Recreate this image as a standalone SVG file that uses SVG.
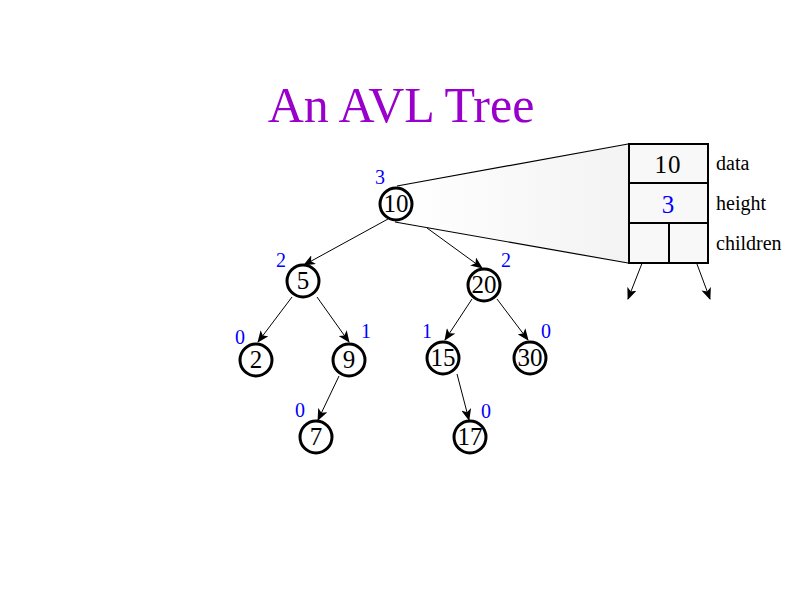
<svg xmlns="http://www.w3.org/2000/svg" width="800" height="600" viewBox="0 0 800 600">
<style>
.node circle{fill:#fff;stroke:#000;stroke-width:3}
.node text{font-family:"Liberation Serif",serif;font-size:25px;text-anchor:middle;fill:#000}
.h{font-family:"Liberation Serif",serif;font-size:20px;text-anchor:middle;fill:#0000ff}
.lbl{font-family:"Liberation Serif",serif;font-size:20px;fill:#000}
.edge{stroke:#000;stroke-width:1;fill:none;marker-end:url(#arr)}
.cell{fill:#f8f8f8;stroke:#000;stroke-width:2}
</style>
<defs>
<marker id="arr" markerUnits="userSpaceOnUse" markerWidth="12" markerHeight="10" refX="11" refY="5" orient="auto">
<path d="M0,0 L12,5 L0,10 L3,5 Z" fill="#000"/>
</marker>
<linearGradient id="fan" x1="0" y1="0" x2="1" y2="0">
<stop offset="0" stop-color="#ffffff"/>
<stop offset="1" stop-color="#f3f3f3"/>
</linearGradient>
</defs>
<rect width="800" height="600" fill="#fff"/>
<text x="401" y="122" font-family="'Liberation Serif',serif" font-size="50" text-anchor="middle" fill="#9900cc">An AVL Tree</text>
<g id="fan-shape">
<polygon points="397,186 628,144 628,263 395,222" fill="url(#fan)" stroke="none"/>
<line x1="397" y1="186" x2="628" y2="144" stroke="#000" stroke-width="1.2"/>
<line x1="395" y1="222" x2="628" y2="263" stroke="#000" stroke-width="1.2"/>
</g>
<g id="connectors">
<line class="edge" x1="388" y1="219" x2="304" y2="265"/>
<line class="edge" x1="427" y1="228" x2="482" y2="268"/>
<line class="edge" x1="292" y1="297" x2="258" y2="342"/>
<line class="edge" x1="317" y1="297" x2="349" y2="342"/>
<line class="edge" x1="472" y1="299" x2="445" y2="340"/>
<line class="edge" x1="497" y1="299" x2="528" y2="340"/>
<line class="edge" x1="339" y1="376" x2="318" y2="420"/>
<line class="edge" x1="457" y1="374" x2="469" y2="420"/>
<line class="edge" x1="648" y1="248" x2="628" y2="299"/>
<line class="edge" x1="691" y1="248" x2="710" y2="299"/>
</g>
<g id="n10" class="node"><circle cx="396" cy="204" r="16"/><text x="396" y="212">10</text></g>
<g id="n5" class="node"><circle cx="303" cy="281" r="16"/><text x="303" y="289">5</text></g>
<g id="n20" class="node"><circle cx="484" cy="285" r="16"/><text x="484" y="293">20</text></g>
<g id="n2" class="node"><circle cx="256" cy="360" r="16"/><text x="256" y="368">2</text></g>
<g id="n9" class="node"><circle cx="349" cy="360" r="16"/><text x="349" y="368">9</text></g>
<g id="n15" class="node"><circle cx="443" cy="358" r="16"/><text x="443" y="366">15</text></g>
<g id="n30" class="node"><circle cx="530" cy="358" r="16"/><text x="530" y="366">30</text></g>
<g id="n7" class="node"><circle cx="316" cy="437" r="16"/><text x="316" y="445">7</text></g>
<g id="n17" class="node"><circle cx="470" cy="437" r="16"/><text x="470" y="445">17</text></g>
<g id="heights">
<text class="h" x="380" y="184">3</text>
<text class="h" x="281" y="267">2</text>
<text class="h" x="506" y="267">2</text>
<text class="h" x="240" y="344">0</text>
<text class="h" x="366" y="338">1</text>
<text class="h" x="427" y="338">1</text>
<text class="h" x="546" y="338">0</text>
<text class="h" x="300" y="417">0</text>
<text class="h" x="486" y="418">0</text>
</g>
<g id="record">
<rect class="cell" x="629" y="144" width="79" height="39"/>
<rect class="cell" x="629" y="183" width="79" height="40"/>
<rect class="cell" x="629" y="223" width="40" height="40"/>
<rect class="cell" x="669" y="223" width="39" height="40"/>
<text x="668" y="173" font-family="'Liberation Serif',serif" font-size="25" text-anchor="middle" letter-spacing="1">10</text>
<text x="668" y="213" font-family="'Liberation Serif',serif" font-size="25" text-anchor="middle" fill="#0000ff">3</text>
<text class="lbl" x="716" y="170">data</text>
<text class="lbl" x="716" y="210">height</text>
<text class="lbl" x="716" y="250">children</text>
</g>
</svg>
